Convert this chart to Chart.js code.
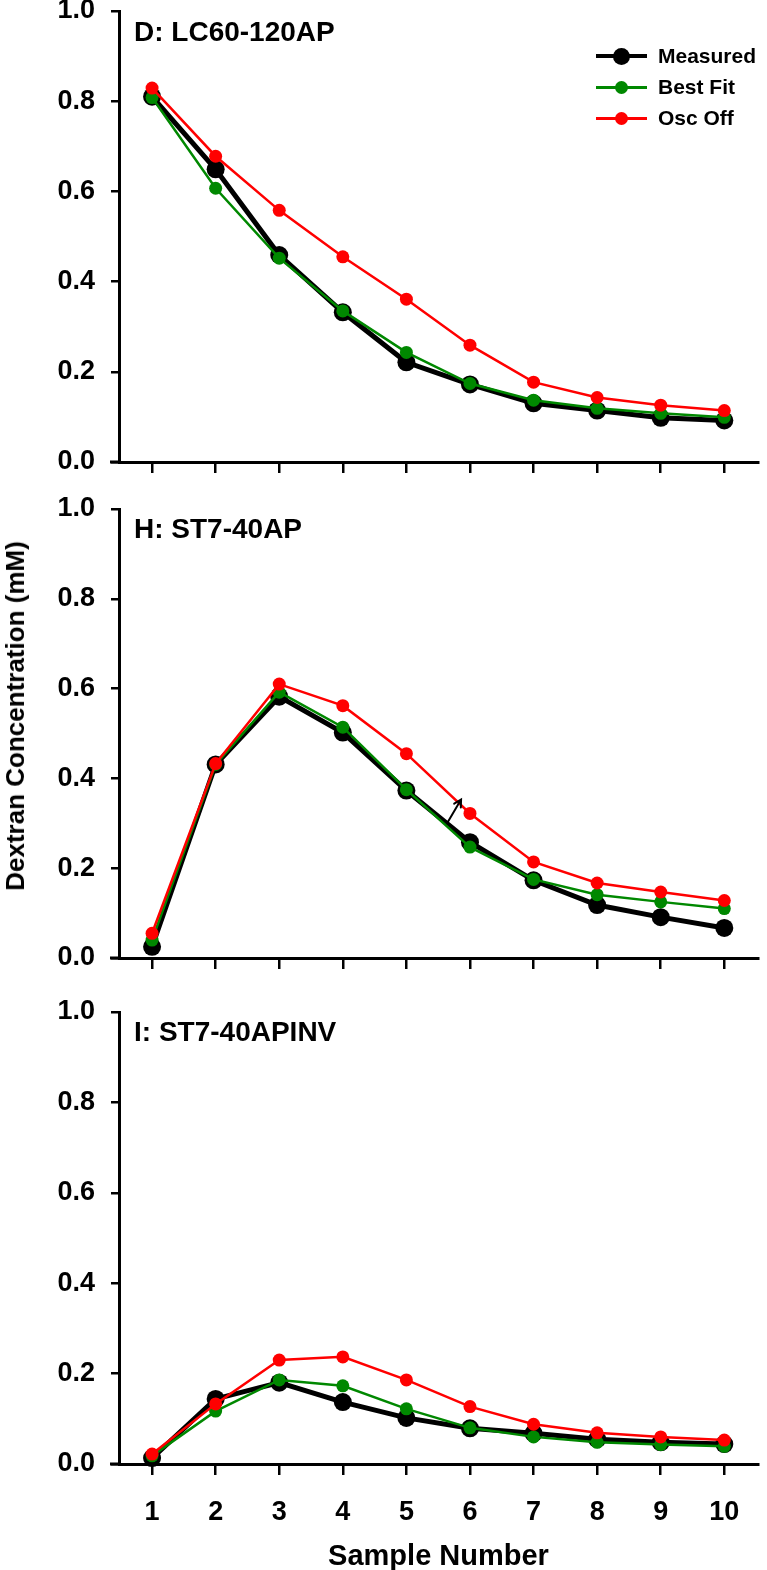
<!DOCTYPE html>
<html>
<head>
<meta charset="utf-8">
<script src="https://cdn.jsdelivr.net/npm/chart.js@4.4.1/dist/chart.umd.min.js"></script>
<style>
  body { margin: 0; background: #fff; }
  #fig { position: relative; width: 767px; height: 1570px; font-family: "Liberation Sans", Arial, sans-serif; font-weight: bold; color: #000; }
  canvas { position: absolute; left: 0; }
  .ptitle { position: absolute; left: 134px; font-size: 28px; line-height: 30px; white-space: nowrap; }
  .ytitle { position: absolute; left: 15px; top: 716px; font-size: 26px; line-height: 30px; white-space: nowrap;
            transform: translate(-50%, -50%) rotate(-90deg); }
  .lrow { position: absolute; left: 596px; width: 170px; height: 24px; }
  .lrow .ln { position: absolute; left: 0; width: 51px; }
  .lrow .mk { position: absolute; border-radius: 50%; }
  .lrow span { position: absolute; left: 62px; top: 0; font-size: 21px; line-height: 24px; white-space: nowrap; }
</style>
</head>
<body>
<div id="fig">
  <canvas id="c1" width="767" height="490" style="top:0px"></canvas>
  <canvas id="c2" width="767" height="500" style="top:490px"></canvas>
  <canvas id="c3" width="767" height="580" style="top:990px"></canvas>
  <div class="ptitle" id="t1" style="top:17px"></div>
  <div class="ptitle" id="t2" style="top:514px"></div>
  <div class="ptitle" id="t3" style="top:1017px"></div>
  <div class="ytitle" id="ytitle"></div>
  <div id="legend"></div>
</div>
<script>
// sample axis and labels
const sampleNumbers = [1, 2, 3, 4, 5, 6, 7, 8, 9, 10];
const yTickValues = [0, 0.2, 0.4, 0.6, 0.8, 1.0];
const panelTitles = ['D: LC60-120AP', 'H: ST7-40AP', 'I: ST7-40APINV'];
const seriesNames = ['Measured', 'Best Fit', 'Osc Off'];
const xTitle = 'Sample Number';
const yTitle = 'Dextran Concentration (mM)';

// panel D
const measuredD = [0.81, 0.649, 0.459, 0.332, 0.221, 0.172, 0.13, 0.114, 0.098, 0.092];
const bestFitD  = [0.808, 0.607, 0.452, 0.335, 0.243, 0.174, 0.137, 0.119, 0.108, 0.099];
const oscOffD   = [0.829, 0.678, 0.558, 0.455, 0.361, 0.259, 0.177, 0.143, 0.126, 0.114];

// panel H
const measuredH = [0.025, 0.431, 0.582, 0.502, 0.373, 0.258, 0.173, 0.118, 0.091, 0.067];
const bestFitH  = [0.04, 0.431, 0.592, 0.514, 0.375, 0.247, 0.175, 0.141, 0.125, 0.11];
const oscOffH   = [0.055, 0.433, 0.61, 0.562, 0.455, 0.322, 0.214, 0.167, 0.147, 0.128];

// panel I
const measuredI = [0.013, 0.144, 0.18, 0.137, 0.102, 0.079, 0.068, 0.055, 0.048, 0.044];
const bestFitI  = [0.018, 0.117, 0.186, 0.173, 0.122, 0.08, 0.06, 0.048, 0.043, 0.039];
const oscOffI   = [0.022, 0.133, 0.23, 0.237, 0.186, 0.127, 0.088, 0.069, 0.06, 0.053];

// arrow in panel H (data units)
const arrowFrom = [5.64, 0.30];
const arrowTo = [5.86, 0.353];

const colors = ['#000000', '#008800', '#ff0000'];
const lineWidths = [5, 2.5, 2.5];
const pointRadii = [9, 6.5, 6.5];

const tickFont = { family: '"Liberation Sans", Arial, sans-serif', size: 27, weight: 'bold' };

// text bits
document.getElementById('t1').textContent = panelTitles[0];
document.getElementById('t2').textContent = panelTitles[1];
document.getElementById('t3').textContent = panelTitles[2];
document.getElementById('ytitle').textContent = yTitle;

const legend = document.getElementById('legend');
[56, 87, 118].forEach((cy, i) => {
    const row = document.createElement('div');
    row.className = 'lrow';
    row.style.top = (cy - 12) + 'px';
    const lw = i === 0 ? 4.5 : 3;
    const r = i === 0 ? 8.5 : 6.5;
    row.innerHTML =
        `<div class="ln" style="top:${12 - lw / 2}px;height:${lw}px;background:${colors[i]}"></div>` +
        `<div class="mk" style="left:${25 - r}px;top:${12 - r}px;width:${2 * r}px;height:${2 * r}px;background:${colors[i]}"></div>` +
        `<span>${seriesNames[i]}</span>`;
    legend.appendChild(row);
});

// little extension of the x axis to the left of the y axis
const axisStub = {
    id: 'axisStub',
    afterDraw(chart) {
        const { ctx, chartArea } = chart;
        ctx.save();
        ctx.strokeStyle = '#000';
        ctx.lineWidth = 3;
        ctx.beginPath();
        ctx.moveTo(chartArea.left - 9, chartArea.bottom);
        ctx.lineTo(chartArea.left, chartArea.bottom);
        ctx.stroke();
        ctx.restore();
    }
};

const arrowPlugin = {
    id: 'arrow',
    afterDatasetsDraw(chart) {
        const { ctx } = chart;
        const xs = chart.scales.x, ys = chart.scales.y;
        const x0 = xs.getPixelForValue(arrowFrom[0]), y0 = ys.getPixelForValue(arrowFrom[1]);
        const x1 = xs.getPixelForValue(arrowTo[0]), y1 = ys.getPixelForValue(arrowTo[1]);
        const ang = Math.atan2(y1 - y0, x1 - x0);
        ctx.save();
        ctx.strokeStyle = '#000';
        ctx.lineWidth = 2;
        ctx.lineCap = 'round';
        ctx.beginPath();
        ctx.moveTo(x0, y0);
        ctx.lineTo(x1, y1);
        ctx.moveTo(x1 - 8 * Math.cos(ang - 0.5), y1 - 8 * Math.sin(ang - 0.5));
        ctx.lineTo(x1, y1);
        ctx.lineTo(x1 - 8 * Math.cos(ang + 0.5), y1 - 8 * Math.sin(ang + 0.5));
        ctx.stroke();
        ctx.restore();
    }
};

function makePanel(id, series, padTop, xHeight, lastPanel, extraPlugins) {
    const datasets = series.map((vals, i) => ({
        label: seriesNames[i],
        data: vals.map((v, k) => ({ x: sampleNumbers[k], y: v })),
        borderColor: colors[i],
        backgroundColor: colors[i],
        borderWidth: lineWidths[i],
        pointRadius: pointRadii[i],
        pointBorderWidth: 0,
        pointBackgroundColor: colors[i],
        tension: 0,
        clip: false,
        order: 2 - i
    }));

    new Chart(document.getElementById(id), {
        type: 'line',
        data: { datasets: datasets },
        plugins: [axisStub].concat(extraPlugins || []),
        options: {
            responsive: false,
            animation: false,
            devicePixelRatio: 1,
            layout: { padding: { top: padTop, left: 0, right: 0, bottom: 0 } },
            plugins: { legend: { display: false }, tooltip: { enabled: false } },
            scales: {
                x: {
                    type: 'linear',
                    min: 0.48,
                    max: 10.53,
                    afterBuildTicks: s => { s.ticks = sampleNumbers.map(v => ({ value: v })); },
                    afterFit: s => { s.height = xHeight; s.paddingLeft = 0; s.paddingRight = 0; },
                    grid: { drawOnChartArea: false, drawTicks: true, tickLength: 11, color: '#000', lineWidth: 2.5 },
                    border: { display: true, color: '#000', width: 3 },
                    ticks: {
                        display: lastPanel,
                        color: '#000',
                        font: tickFont,
                        padding: 21,
                        maxRotation: 0,
                        autoSkip: false,
                        callback: v => String(v)
                    },
                    title: {
                        display: lastPanel,
                        text: xTitle,
                        color: '#000',
                        font: { family: '"Liberation Sans", Arial, sans-serif', size: 29, weight: 'bold' },
                        padding: { top: 0, bottom: -4 }
                    }
                },
                y: {
                    min: 0,
                    max: 1,
                    afterBuildTicks: s => { s.ticks = yTickValues.map(v => ({ value: v })); },
                    afterFit: s => { s.width = 119; s.paddingTop = 0; s.paddingBottom = 0; },
                    grid: { drawOnChartArea: false, drawTicks: true, tickLength: 8, color: '#000', lineWidth: 2.5 },
                    border: { display: true, color: '#000', width: 3 },
                    ticks: {
                        color: '#000',
                        font: tickFont,
                        padding: 16,
                        callback: v => Number(v).toFixed(1)
                    }
                }
            }
        }
    });
}

makePanel('c1', [measuredD, bestFitD, oscOffD], 11, 28, false);
makePanel('c2', [measuredH, bestFitH, oscOffH], 19, 32, false, [arrowPlugin]);
makePanel('c3', [measuredI, bestFitI, oscOffI], 22, 106, true);
</script>
</body>
</html>
